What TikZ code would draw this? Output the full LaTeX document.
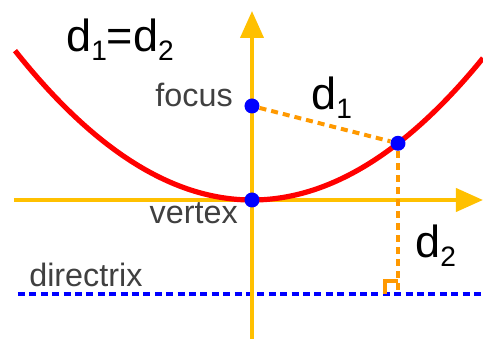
\documentclass[tikz,border=0pt]{standalone}
\usepackage{fontspec}
\setmainfont{Liberation Sans}
\usetikzlibrary{arrows.meta}
\definecolor{axisyellow}{RGB}{255,192,0}
\definecolor{distorange}{RGB}{255,153,0}
\definecolor{labelgray}{RGB}{64,64,64}
\newcommand{\lowidx}[1]{\raisebox{-0.2em}{\fontsize{20}{22}\selectfont #1}}

\begin{document}
\begin{tikzpicture}[x=0.25mm, y=0.25mm,
  axis/.style={draw=axisyellow, line width=1mm, -{Triangle[length=6.75mm, width=5.75mm]}},
  curve/.style={draw=red, line width=1.3mm},
  dist/.style={draw=distorange, line width=1mm, dash pattern=on 1.75mm off 1.25mm},
  dirline/.style={draw=blue, line width=1mm, dash pattern=on 1.75mm off 1.1mm},
  dot/.style={circle, fill=blue, inner sep=0pt, minimum size=3.75mm},
  small label/.style={font=\fontsize{23}{26}\selectfont, text=labelgray, inner sep=0pt},
  big label/.style={font=\fontsize{32}{38}\selectfont, inner sep=0pt},
]
  \useasboundingbox (-252,-139) rectangle (231,200);

  % Directrix and axes
  \draw[dirline] (-234,-94) -- (231,-94);
  \draw[axis] (-238,0) -- (231,0);
  \draw[axis] (0,-139) -- (0,189);

  % Parabola
  \draw[curve] plot[domain=-237:231, samples=80, smooth] (\x, {(\x/376)*\x});

  % Points
  \node[dot] (vtx) at (0,0) {};
  \node[dot] (focus) at (0,94) {};
  \node[dot] (pt) at (146,56.7) {};
  \coordinate (foot) at (146,-94);

  % Distances
  \draw[dist] (focus) -- (pt);
  \draw[dist] (pt) -- (foot);
  \draw[draw=distorange, line width=1mm] (foot) ++(-13,0) -- ++(0,13) -- ++(13,0);

  % Labels
  \node[big label, anchor=base west] (eq) at (-186,148) {d\lowidx{1}=d\lowidx{2}};
  \node[big label, anchor=base west] (d1) at (59,90) {d\lowidx{1}};
  \node[big label, anchor=base west] (d2) at (163,-58) {d\lowidx{2}};
  \node[small label, anchor=base east] (focuslbl) at (-19,93) {focus};
  \node[small label, anchor=base east] (vtxlbl) at (-14,-24) {vertex};
  \node[small label, anchor=base west] (dirlbl) at (-223,-87) {directrix};
\end{tikzpicture}
\end{document}
